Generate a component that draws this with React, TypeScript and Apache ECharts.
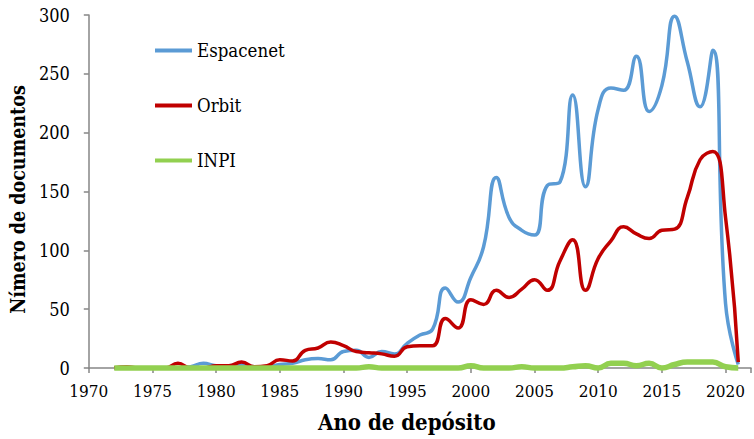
import React, { useEffect, useRef } from "react";
import * as echarts from "echarts";

const years: number[] = [
  1972, 1973, 1974, 1975, 1976, 1977, 1978, 1979, 1980, 1981,
  1982, 1983, 1984, 1985, 1986, 1987, 1988, 1989, 1990, 1991,
  1992, 1993, 1994, 1995, 1996, 1997, 1998, 1999, 2000, 2001,
  2002, 2003, 2004, 2005, 2006, 2007, 2008, 2009, 2010, 2011,
  2012, 2013, 2014, 2015, 2016, 2017, 2018, 2019, 2020, 2021,
];

const espacenet: number[] = [
  0, 0, 0, 0, 0, 0, 1, 4, 2, 2,
  3, 1, 1, 3, 4, 7, 8, 7, 14, 15,
  9, 14, 12, 21, 28, 33, 68, 56, 77, 103,
  162, 128, 117, 113, 155, 158, 232, 154, 220, 238,
  236, 265, 218, 240, 299, 260, 222, 270, 55, 3,
];

const orbit: number[] = [
  0, 1, 0, 0, 0, 4, 0, 0, 2, 2,
  5, 1, 2, 7, 6, 15, 17, 22, 19, 14,
  13, 12, 10, 18, 19, 19, 42, 34, 58, 54,
  66, 60, 67, 75, 66, 91, 109, 66, 93, 108,
  120, 114, 110, 117, 118, 145, 177, 184, 128, 5,
];

const inpi: number[] = [
  0, 0, 0, 0, 0, 0, 0, 0, 0, 0,
  0, 0, 0, 0, 0, 0, 0, 0, 0, 0,
  1, 0, 0, 0, 0, 0, 0, 0, 2, 0,
  0, 0, 1, 0, 0, 0, 1, 2, 0, 4,
  4, 2, 4, 0, 3, 5, 5, 5, 1, 0,
];

const seriesNames: string[] = ["Espacenet", "Orbit", "INPI"];
const xTitle = "Ano de depósito";
const yTitle = "Nímero de documentos";

const FONT = "DejaVu Serif Condensed";

export default function App() {
  const ref = useRef<HTMLDivElement>(null);

  useEffect(() => {
    if (!ref.current) return;
    const chart = echarts.init(ref.current, undefined, { renderer: "svg" });
    const pairs = (vals: number[]) => years.map((y, i) => [y, vals[i]]);
    const axisColor = "#868686";
    chart.setOption({
      animation: false,
      backgroundColor: "#ffffff",
      textStyle: { fontFamily: FONT },
      grid: { left: 87.5, right: -4.3, top: 15, bottom: 71, containLabel: false },
      legend: {
        orient: "vertical",
        left: 150,
        top: 36,
        itemWidth: 37,
        itemHeight: 4,
        itemGap: 36,
        icon: "rect",
        textStyle: { fontFamily: FONT, fontSize: 18.5, color: "#000" },
        data: seriesNames,
      },
      xAxis: {
        type: "value",
        min: 1970,
        max: 2022,
        interval: 5,
        name: xTitle,
        nameLocation: "middle",
        nameGap: 43,
        nameTextStyle: {
          fontFamily: FONT,
          fontSize: 22,
          fontWeight: "bold",
          color: "#000",
          padding: [0, 26, 0, 0],
        },
        axisLine: { show: true, lineStyle: { color: axisColor, width: 1.5 } },
        axisTick: { show: true, length: 5, lineStyle: { color: axisColor, width: 1.5 } },
        axisLabel: {
          fontFamily: FONT,
          fontSize: 17,
          color: "#000",
          margin: 14,
          formatter: (v: number) => (v % 5 === 0 && v <= 2020 ? String(v) : ""),
        },
        splitLine: { show: false },
      },
      yAxis: {
        type: "value",
        min: 0,
        max: 300,
        interval: 50,
        name: yTitle,
        nameLocation: "middle",
        nameGap: 55,
        nameTextStyle: {
          fontFamily: FONT,
          fontSize: 19.5,
          fontWeight: "bold",
          color: "#000",
          padding: [0, 16, 0, 0],
        },
        axisLine: { show: true, lineStyle: { color: axisColor, width: 1.5 } },
        axisTick: { show: true, length: 5, lineStyle: { color: axisColor, width: 1.5 } },
        axisLabel: { fontFamily: FONT, fontSize: 18, color: "#000", margin: 19 },
        splitLine: { show: false },
      },
      series: [
        {
          name: seriesNames[0],
          type: "line",
          data: pairs(espacenet),
          smooth: 0.5,
          symbol: "none",
          clip: false,
          lineStyle: { color: "#5B9BD5", width: 3.5 },
          itemStyle: { color: "#5B9BD5" },
        },
        {
          name: seriesNames[1],
          type: "line",
          data: pairs(orbit),
          smooth: 0.5,
          symbol: "none",
          clip: false,
          lineStyle: { color: "#C00000", width: 3.5 },
          itemStyle: { color: "#C00000" },
        },
        {
          name: seriesNames[2],
          type: "line",
          data: pairs(inpi),
          smooth: 0.5,
          symbol: "none",
          clip: false,
          lineStyle: { color: "#92D050", width: 5.5 },
          itemStyle: { color: "#92D050" },
        },
      ],
    });
    return () => chart.dispose();
  }, []);

  return (
    <div
      ref={ref}
      style={{ position: "fixed", left: 0, top: 0, width: 754, height: 439, background: "#fff" }}
    />
  );
}
